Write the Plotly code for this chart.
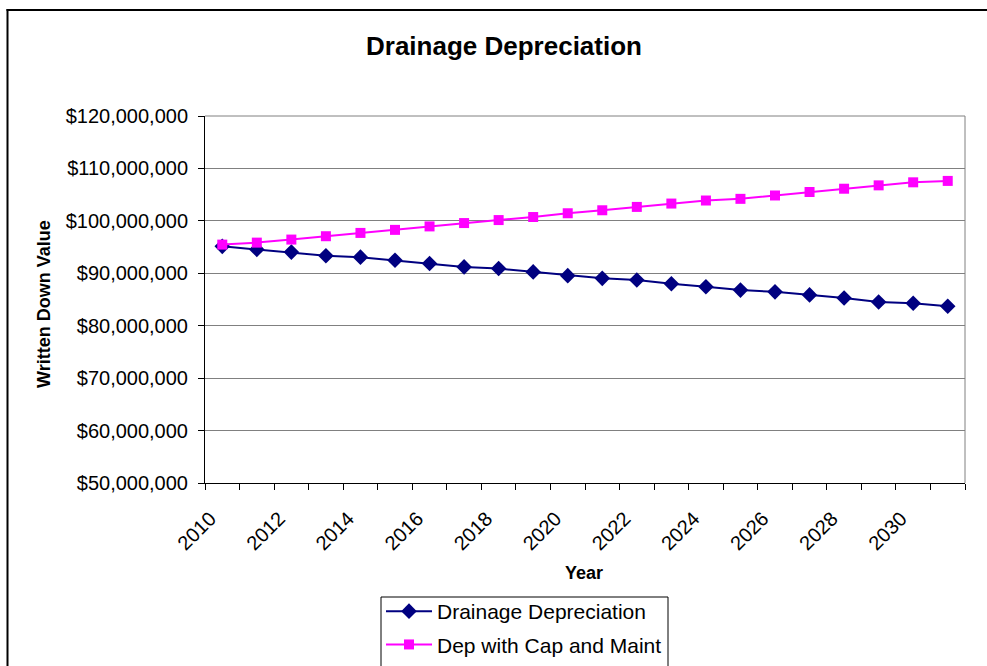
import plotly.graph_objects as go

# Written-down value of drainage assets, 2010-2031
years = list(range(2010, 2032))

drainage_dep = [
    95.14, 94.56, 94.04, 93.35, 93.08, 92.50, 91.86, 91.22, 90.90, 90.26, 89.55,
    89.03, 88.72, 88.00, 87.43, 86.79, 86.46, 85.88, 85.30, 84.53, 84.28, 83.70,
]
dep_cap_maint = [
    95.47, 95.85, 96.43, 97.07, 97.70, 98.28, 98.94, 99.58, 100.15, 100.73, 101.45,
    102.02, 102.66, 103.30, 103.88, 104.20, 104.84, 105.50, 106.13, 106.77, 107.35, 107.62,
]
# values above are in millions of dollars
drainage_dep = [v * 1e6 for v in drainage_dep]
dep_cap_maint = [v * 1e6 for v in dep_cap_maint]

year_labels = list(range(2010, 2032, 2))

FONT = "Liberation Sans, Arial, sans-serif"

fig = go.Figure()
fig.add_trace(go.Scatter(
    x=years, y=drainage_dep, name="Drainage Depreciation",
    legendgroup="a",
    mode="lines+markers",
    line=dict(color="#000080", width=2),
    marker=dict(symbol="diamond", size=12, color="#000080"),
))
fig.add_trace(go.Scatter(
    x=years, y=dep_cap_maint, name="Dep with Cap and Maint",
    legendgroup="b",
    mode="lines+markers",
    line=dict(color="#FF00FF", width=2),
    marker=dict(symbol="square", size=10, color="#FF00FF"),
))

L, R, T, B = 205, 22, 116, 183
W, H = 987, 666
pw, ph = W - L - R, H - T - B


def px_x(p):
    return (p - L) / pw


def px_y(p):
    return (H - B - p) / ph


# rotated year labels sit slightly left of each category centre
label_shift = 0.35

fig.update_layout(
    width=W, height=H,
    margin=dict(l=L, r=R, t=T, b=B, autoexpand=False),
    paper_bgcolor="white",
    plot_bgcolor="white",
    font=dict(family=FONT, color="black", size=20),
    title=dict(
        text="<b>Drainage Depreciation</b>",
        font=dict(size=26, family=FONT, color="black"),
        x=504 / W, xref="container", xanchor="center",
        y=1 - 46 / H, yref="container", yanchor="middle",
    ),
    showlegend=True,
    legend=dict(
        x=px_x(381), y=px_y(591), xanchor="left", yanchor="top",
        borderwidth=0, bgcolor="rgba(0,0,0,0)",
        font=dict(size=21, family=FONT, color="black"),
        itemwidth=46,
        traceorder="grouped",
        tracegroupgap=3,
    ),
    xaxis=dict(
        range=[2009.5, 2031.5],
        tickmode="array", tickvals=[y - label_shift for y in year_labels],
        ticktext=[str(y) for y in year_labels],
        tickangle=-45,
        ticks="", showgrid=False, zeroline=False,
        showline=True, linecolor="black", linewidth=1,
        mirror=False,
        automargin=False,
        ticklabelstandoff=15,
        tickfont=dict(size=20, family=FONT, color="black"),
        minor=dict(ticks="outside", tick0=2009.5, dtick=1, ticklen=6,
                   tickcolor="black", tickwidth=1, showgrid=False),
    ),
    yaxis=dict(
        range=[50e6, 120e6], dtick=10e6, tick0=50e6,
        tickformat="$,.0f",
        ticks="outside", ticklen=6, tickcolor="black",
        showgrid=True, gridcolor="#808080", gridwidth=1,
        zeroline=False,
        showline=True, linecolor="black", linewidth=1,
        automargin=False,
        ticklabelstandoff=6,
        tickfont=dict(size=20, family=FONT, color="black"),
    ),
    annotations=[
        dict(text="<b>Year</b>", xref="paper", yref="paper",
             x=px_x(584), y=px_y(573), xanchor="center", yanchor="middle",
             showarrow=False, font=dict(size=18, family=FONT, color="black")),
        dict(text="<b>Written Down Value</b>", xref="paper", yref="paper",
             x=px_x(44), y=px_y(304), xanchor="center", yanchor="middle",
             textangle=-90,
             showarrow=False, font=dict(size=18, family=FONT, color="black")),
    ],
    shapes=[
        # grey top and right edges of the plot area
        dict(type="line", xref="paper", yref="paper", x0=0, x1=1, y0=1, y1=1,
             line=dict(color="#808080", width=1)),
        dict(type="line", xref="paper", yref="paper", x0=1, x1=1, y0=0, y1=1,
             line=dict(color="#808080", width=1)),
        # chart frame: left and top edges
        dict(type="line", xref="paper", yref="paper",
             x0=px_x(7.5), x1=px_x(7.5), y0=px_y(9), y1=px_y(700),
             line=dict(color="black", width=2)),
        dict(type="line", xref="paper", yref="paper",
             x0=px_x(6.5), x1=px_x(1000), y0=px_y(10), y1=px_y(10),
             line=dict(color="black", width=2)),
        # legend box
        dict(type="rect", xref="paper", yref="paper",
             x0=px_x(381), x1=px_x(668), y0=px_y(597), y1=px_y(720),
             line=dict(color="black", width=1)),
    ],
)

fig.write_html("out.html")
